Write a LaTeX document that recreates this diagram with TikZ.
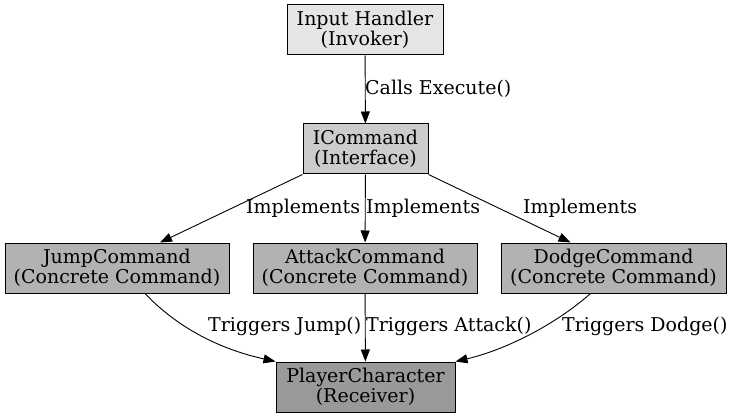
\documentclass[tikz,border=0pt]{standalone}
\usepackage{fontspec}
\setmainfont{DejaVu Serif}
\usetikzlibrary{arrows.meta}
\begin{document}
\begin{tikzpicture}[x=1pt,y=-1pt,
  box/.style={draw=black, line width=1pt, align=center, minimum height=50pt,
    inner sep=0pt, font=\fontsize{19}{19.5}\selectfont},
  lbl/.style={anchor=west, inner sep=0pt, font=\fontsize{19}{19.5}\selectfont},
  edge/.style={line width=0.9pt, -{Triangle[length=12pt,width=9pt]}}]
\useasboundingbox (0,0) rectangle (731,417);
\node[box, fill=black!10, minimum width=156pt] (input) at (365,30) {Input Handler\\(Invoker)};
\node[box, fill=black!20, minimum width=125pt] (icmd) at (365.5,149) {ICommand\\(Interface)};
\node[box, fill=black!30, minimum width=224pt] (jump) at (117,268) {JumpCommand\\(Concrete Command)};
\node[box, fill=black!30, minimum width=224pt] (attack) at (365,268) {AttackCommand\\(Concrete Command)};
\node[box, fill=black!30, minimum width=225pt] (dodge) at (613.5,268) {DodgeCommand\\(Concrete Command)};
\node[box, fill=black!40, minimum width=179pt] (player) at (365.5,387) {PlayerCharacter\\(Receiver)};

\draw[edge] (input) -- (icmd);
\draw[edge] (icmd.south west) -- ([xshift=43pt]jump.north);
\draw[edge] (icmd) -- (attack);
\draw[edge] (icmd.south east) -- ([xshift=-43pt]dodge.north);
\draw[edge] ([xshift=28pt]jump.south) .. controls (175,325) and (215,348) .. (player.north west);
\draw[edge] (attack) -- (player);
\draw[edge] ([xshift=-23pt]dodge.south) .. controls (555,325) and (505,350) .. (player.north east);

\node[lbl] (l1) at (365,89) {Calls Execute()};
\node[lbl] (l2) at (246,208) {Implements};
\node[lbl] (l3) at (366,208) {Implements};
\node[lbl] (l4) at (523,208) {Implements};
\node[lbl] (l5) at (208,326) {Triggers Jump()};
\node[lbl] (l6) at (366,326) {Triggers Attack()};
\node[lbl] (l7) at (562,326) {Triggers Dodge()};
\end{tikzpicture}
\end{document}
